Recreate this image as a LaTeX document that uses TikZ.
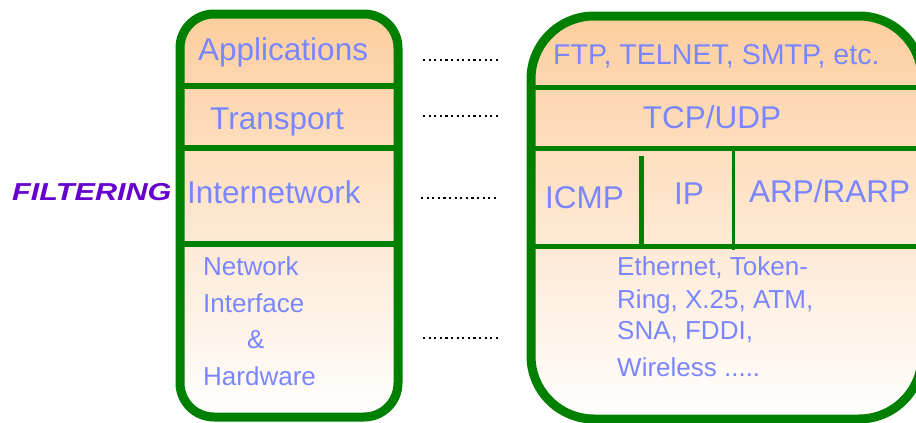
\documentclass[tikz,border=0pt]{standalone}
\usepackage{fontspec}
\setmainfont{Liberation Sans}
\definecolor{stackgreen}{RGB}{0,128,0}
\definecolor{peach}{RGB}{253,206,158}
\definecolor{layertext}{RGB}{122,134,255}
\definecolor{filtercolor}{RGB}{102,0,204}
\tikzset{
    stackframe/.style={draw=stackgreen, line width=9pt},
    divider/.style={draw=stackgreen, line width=6pt},
    layer/.style={anchor=base west, inner sep=0pt, text=layertext,
        font=\fontsize{31.5}{38}\selectfont},
    smalltext/.style={anchor=base west, inner sep=0pt, text=layertext,
        font=\fontsize{26}{31}\selectfont},
    dotline/.style={line width=2.2pt, dash pattern=on 2.2pt off 3.4pt}
}

\begin{document}
\begin{tikzpicture}[x=1pt, y=-1pt]
    \useasboundingbox (0,0) rectangle (916,423);

    % TCP/IP layers
    \shade[top color=peach, bottom color=white, rounded corners=34pt] (180,14) rectangle (398,417);
    \draw[divider] (180,86) -- (398,86);
    \draw[divider] (180,148) -- (398,148);
    \draw[divider] (180,244) -- (398,244);
    \draw[stackframe, rounded corners=34pt] (180,14) rectangle (398,417);

    \node[layer] (app) at (198,60) {Applications};
    \node[layer] (trans) at (210,129) {Transport};
    \node[layer] (inet) at (187,203) {Internetwork};
    \node[smalltext] (nic1) at (203,275) {Network};
    \node[smalltext] (nic2) at (203,312) {Interface};
    \node[smalltext] (nic3) at (247,348) {\&};
    \node[smalltext] (nic4) at (203,385) {Hardware};

    \node[anchor=base west, inner sep=0pt, text=filtercolor,
        font=\fontsize{24.5}{28}\selectfont\bfseries\itshape] (filter) at (12,200) {\scalebox{1.25}[1]{FILTERING}};

    % protocols
    \shade[top color=peach, bottom color=white, rounded corners=63pt] (531,16) rectangle (922,419);
    \draw[divider, line width=5pt] (531,87) -- (922,87);
    \draw[divider, line width=5pt] (531,148) -- (922,148);
    \draw[divider, line width=5pt] (531,246) -- (922,246);
    \draw[divider, line width=5pt] (641,156) -- (641,246);
    \draw[divider, line width=3pt] (733,148) -- (733,250);
    \draw[stackframe, rounded corners=63pt] (531,16) rectangle (922,419);

    \node[layer, font=\fontsize{28.6}{34}\selectfont] (apps) at (553,64) {FTP, TELNET, SMTP, etc.};
    \node[layer, anchor=base] (tcp) at (712,128) {TCP/UDP};
    \node[layer] (icmp) at (545,208) {ICMP};
    \node[layer, anchor=base] (ip) at (689,204) {IP};
    \node[layer] (arp) at (749,202) {ARP/RARP};
    \node[smalltext] (link1) at (617,275) {Ethernet, Token-};
    \node[smalltext] (link2) at (617,308) {Ring, X.25, ATM,};
    \node[smalltext] (link3) at (617,339) {SNA, FDDI,};
    \node[smalltext] (link4) at (617,376) {Wireless .....};

    \coordinate (appL) at (423,60);  \coordinate (appR) at (499,60);
    \coordinate (transL) at (423,116); \coordinate (transR) at (499,116);
    \coordinate (inetL) at (421,198); \coordinate (inetR) at (497,198);
    \coordinate (nicL) at (423,338); \coordinate (nicR) at (499,338);

    \draw[dotline] (appL) -- (appR);
    \draw[dotline] (transL) -- (transR);
    \draw[dotline] (inetL) -- (inetR);
    \draw[dotline] (nicL) -- (nicR);

\end{tikzpicture}
\end{document}
